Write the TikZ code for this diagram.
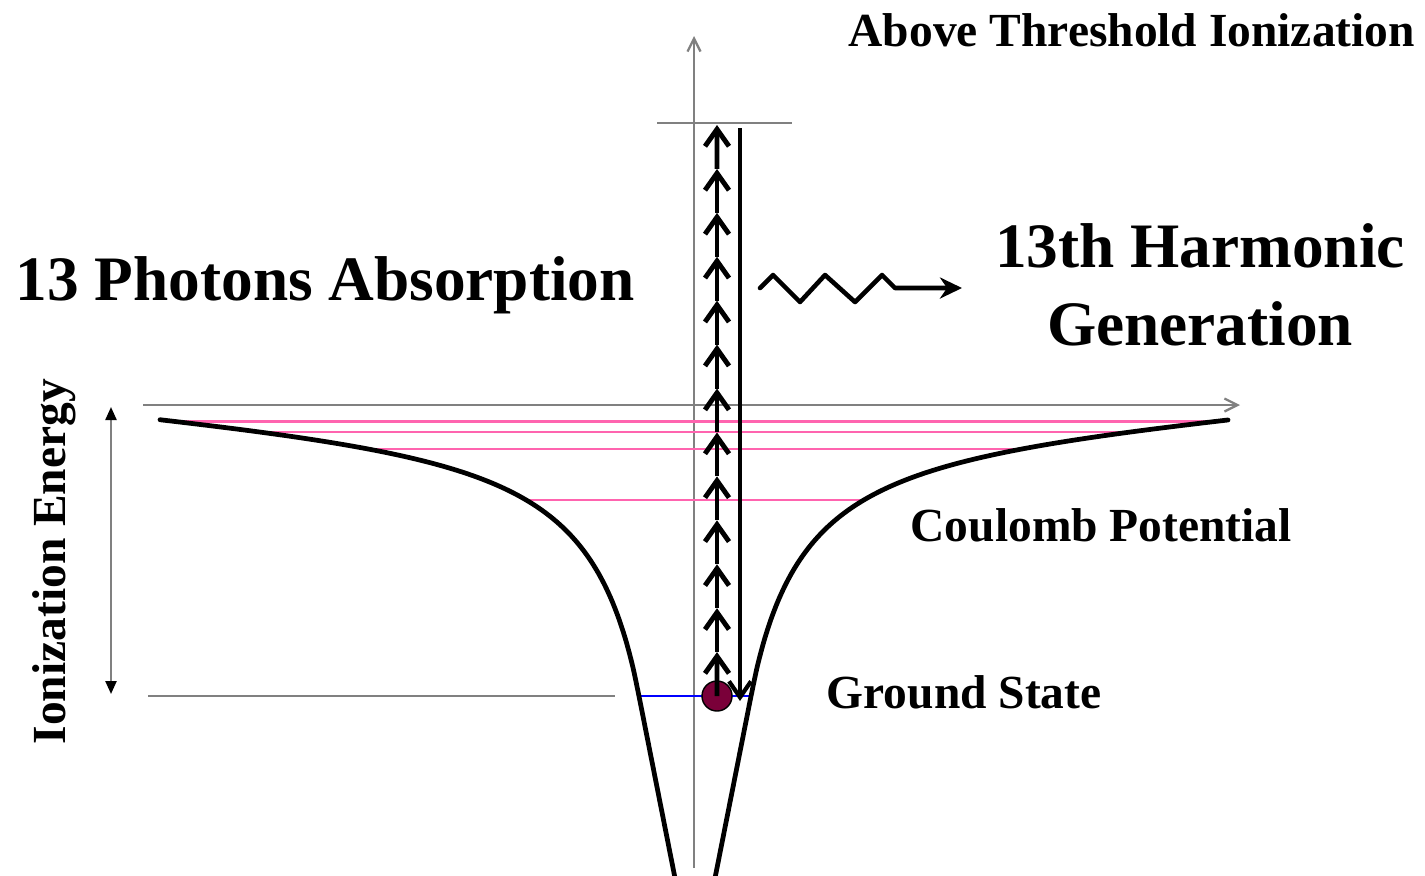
\documentclass[tikz,border=0pt]{standalone}
\usepackage{fontspec}
\setmainfont{Liberation Serif}
\usetikzlibrary{calc,arrows.meta}
\definecolor{ballred}{RGB}{122,0,57}
\definecolor{levelpink}{RGB}{255,100,175}
\definecolor{axisgray}{RGB}{128,128,128}
\tikzset{
  axis/.style={axisgray,line width=0.65pt},
  axistip/.style={-{Straight Barb[length=1.3mm,width=1.3mm]}},
  level/.style={levelpink,line width=0.7pt},
  photon/.style={line width=1.4pt,-{Straight Barb[length=1.7mm,width=2.4mm]}},
  potential/.style={line width=1.35pt},
  bigtxt/.style={inner sep=0pt,font=\fontsize{18pt}{22pt}\selectfont\bfseries},
  smalltxt/.style={inner sep=0pt,font=\fontsize{13.5pt}{16pt}\selectfont\bfseries},
}
\begin{document}
\begin{tikzpicture}[x=0.01cm,y=-0.01cm]
  \useasboundingbox (0,0) rectangle (1425,875);
  % axes and reference lines
  \draw[axis,axistip] (694,868) -- (694,36);
  \draw[axis,axistip] (143,405) -- (1240,405);
  \draw[axis] (657,123) -- (792,123);
  \draw[axis] (148,696) -- (615,696);
  % bound levels
  \draw[level] (180,421.5) -- (1212,421.5);
  \draw[level] (270,432) -- (1120,432);
  \draw[level] (372,449) -- (1020,449);
  \draw[level] (530,500) -- (860,500);
  \draw[blue,line width=0.45pt] (640,696) -- (752,696);
  % coulomb potential
  \draw[potential,line cap=round] plot[domain=535:55,samples=70,smooth]
    (695-\x,{405+16300/\x-0.55*(\x/100)*(\x/100)}) -- (675,878);
  \draw[potential,line cap=round] plot[domain=533:55,samples=70,smooth]
    (695+\x,{405+16300/\x-0.55*(\x/100)*(\x/100)}) -- (715,878);
  % ground state electron
  \node[circle,draw,fill=ballred,minimum size=0.3cm,inner sep=0pt] (gs) at (717,696) {};
  \coordinate (cont) at (717,125);
  \foreach \k in {1,...,13}
    \draw[photon] ($(gs.center)!{(\k-1)/13}!(cont)$) -- ($(gs.center)!{\k/13}!(cont)$);
  % recombination
  \coordinate (rec top) at (740,128);
  \coordinate (rec bot) at (740,701);
  \draw[line width=1.2pt,-{Straight Barb[length=1.6mm,width=2.2mm]}] (rec top) -- (rec bot);
  % ionization energy
  \coordinate (ie top) at (111,407);
  \coordinate (ie bot) at (111,694);
  \draw[axis,{Triangle[length=1.3mm,width=1.1mm,color=black]}-{Triangle[length=1.3mm,width=1.1mm,color=black]}] (ie top) -- (ie bot);
  % emitted harmonic
  \coordinate (hg in) at (760,288);
  \coordinate (hg out) at (962,288);
  \draw[line width=1.3pt,line join=round,line cap=round,-{Stealth[length=2.2mm,width=2.1mm,inset=0.7mm]}]
    (hg in) -- ++(13,-13) -- ++(27,27) -- ++(25,-27) -- ++(30,27) -- ++(27,-27)
    -- ++(13,13) -- (hg out);
  % labels
  \node[smalltxt,anchor=base west] (ati) at (848,46) {Above Threshold Ionization};
  \node[bigtxt,anchor=base west] (abs) at (15,300) {13 Photons Absorption};
  \node[bigtxt,align=center] (hhg) at (1200,285) {13th Harmonic\\Generation};
  \node[smalltxt,anchor=base west] (coul) at (910,541) {Coulomb Potential};
  \node[smalltxt,anchor=base west] (gsl) at (826,708) {Ground State};
  \node[smalltxt,anchor=base west,rotate=90] (iel) at (65,745) {Ionization Energy};
\end{tikzpicture}
\end{document}
